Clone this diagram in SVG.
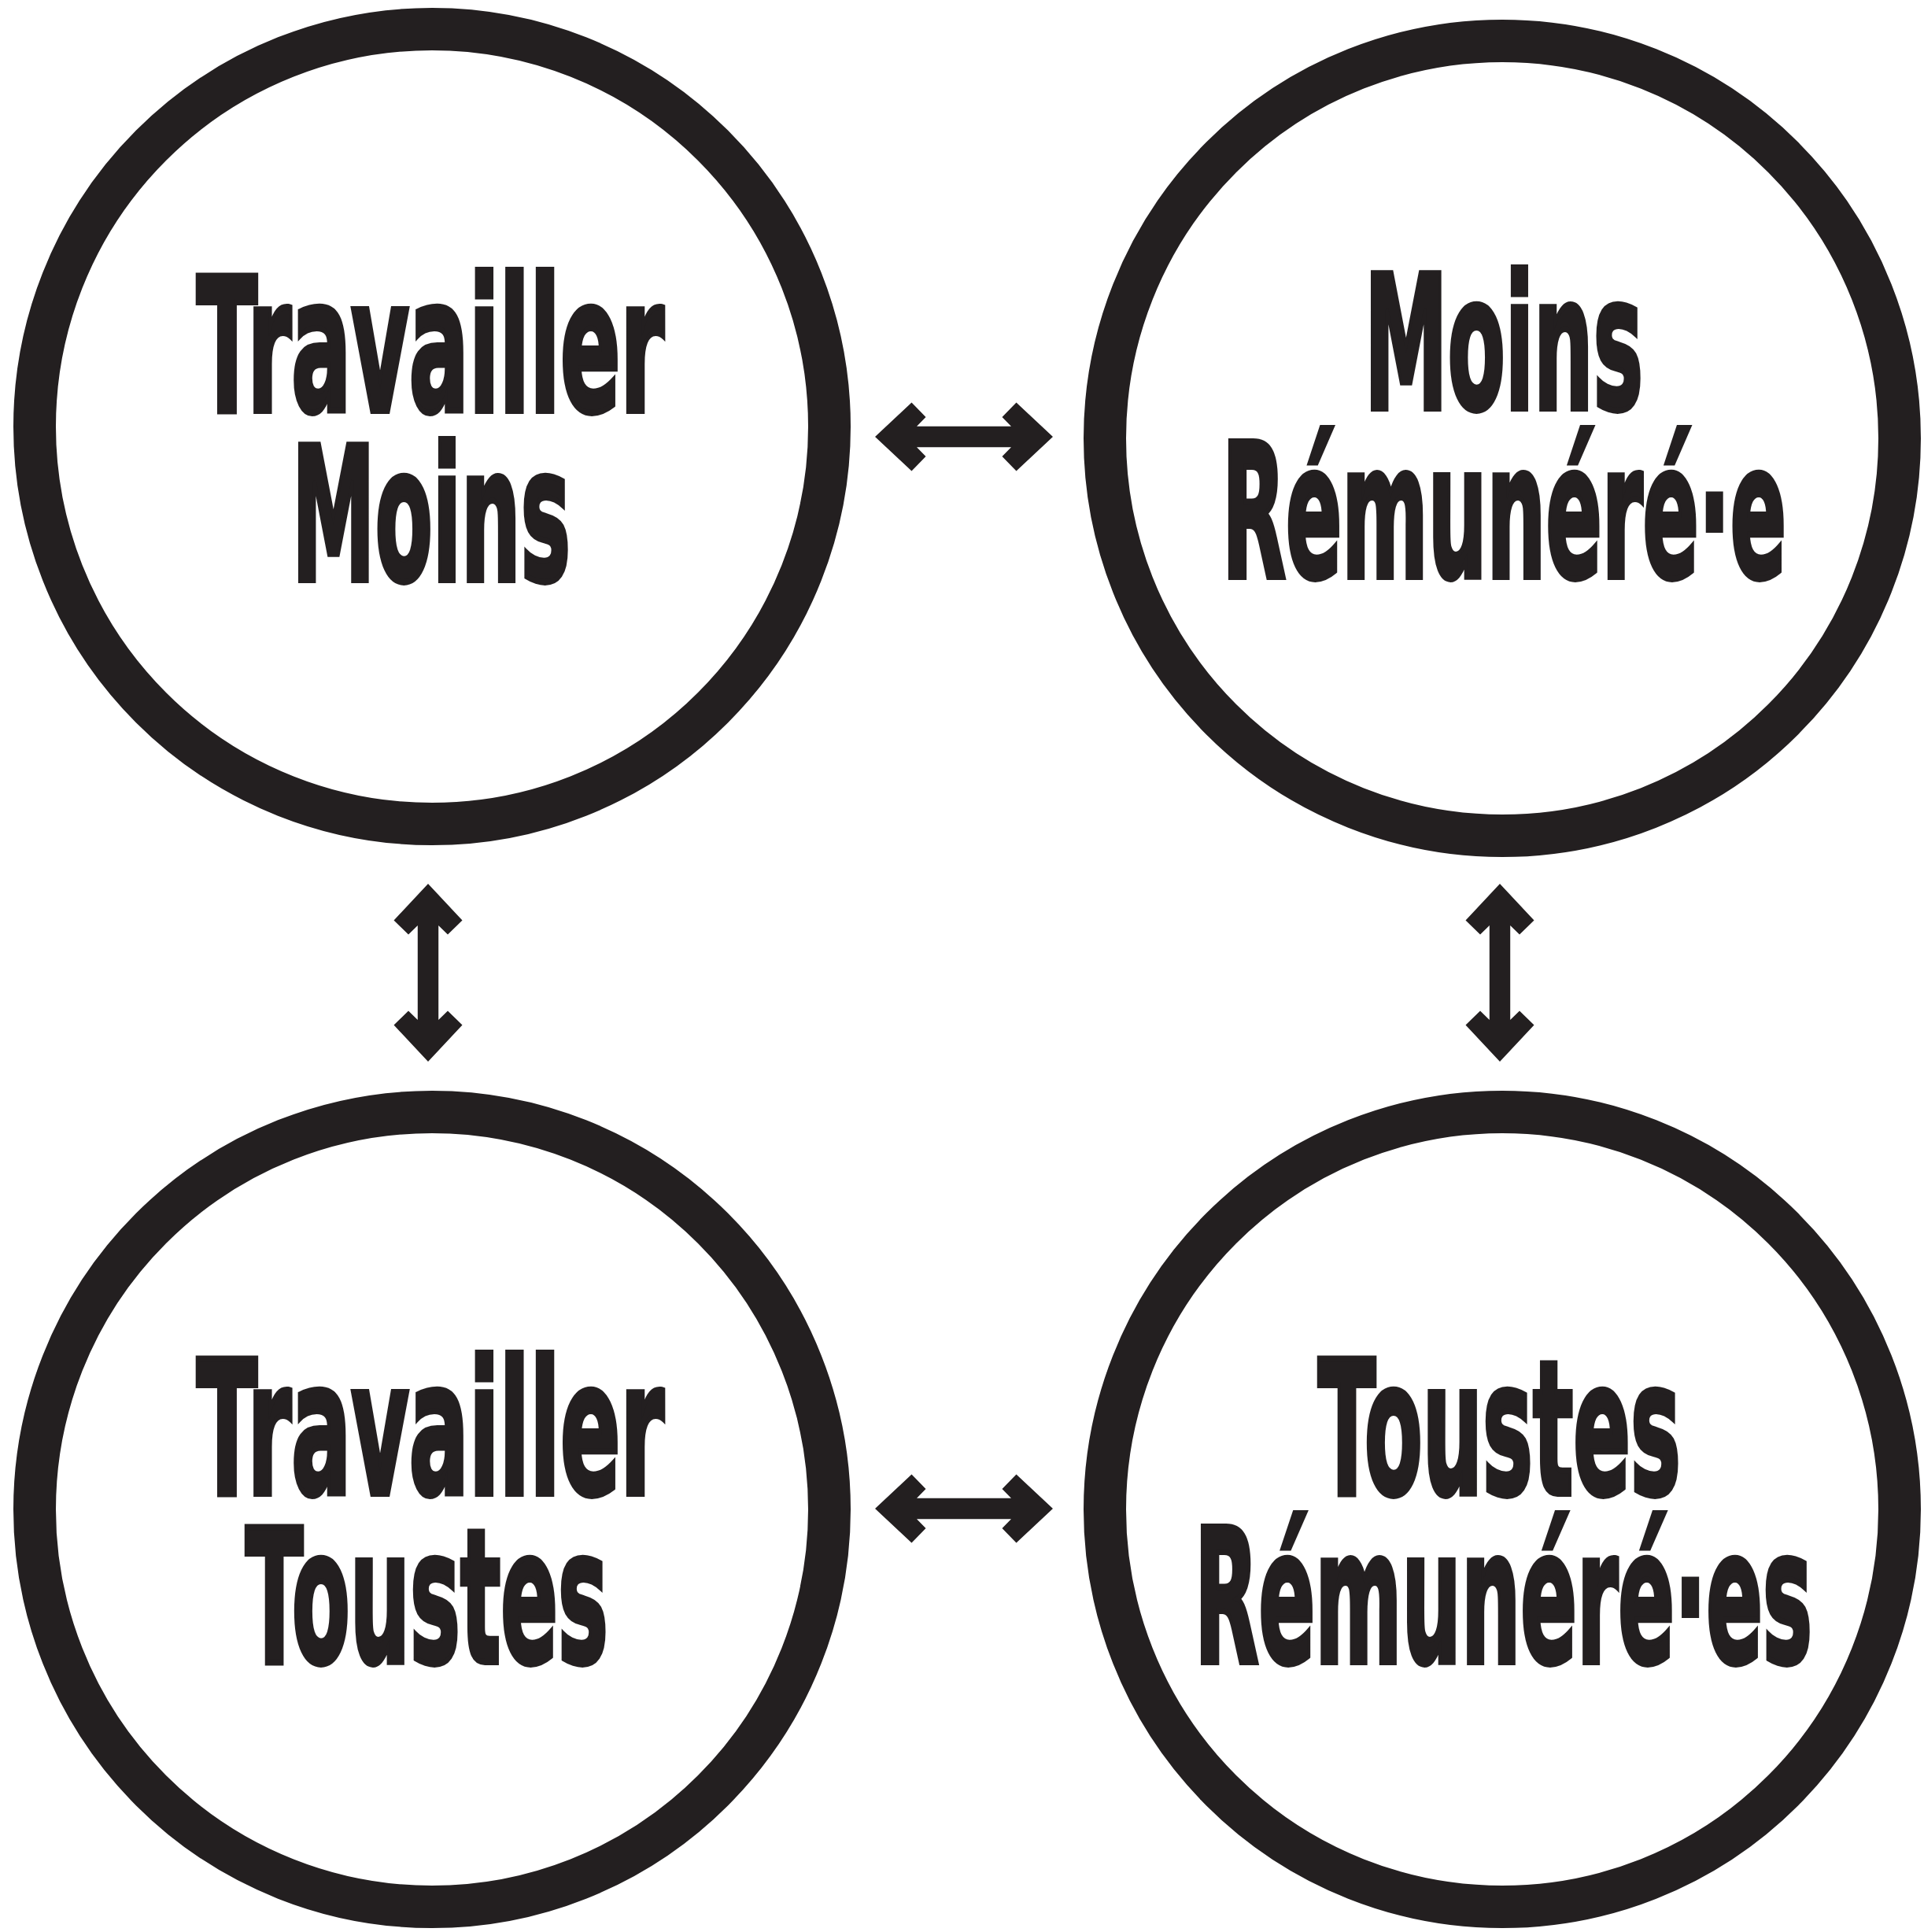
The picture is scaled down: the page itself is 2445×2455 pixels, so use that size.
<svg xmlns="http://www.w3.org/2000/svg" xmlns:xlink="http://www.w3.org/1999/xlink" width="2445" height="2455" viewBox="0 0 2445 2455">
<style>
.ring{fill:none;stroke:#231f20;stroke-width:54}
.lbl{font-family:"DejaVu Sans","Liberation Sans",sans-serif;font-weight:bold;font-size:100px;fill:#231f20;stroke:#231f20;stroke-width:6;stroke-linejoin:miter;vector-effect:non-scaling-stroke}
.arr{fill:#231f20}
</style>
<defs>
<path id="dbl" d="M-113,0 L-66.5,-43.5 L-48.5,-25 L-60,-13.2 L60,-13.2 L48.5,-25 L66.5,-43.5 L113,0 L66.5,43.5 L48.5,25 L60,13.2 L-60,13.2 L-48.5,25 L-66.5,43.5 Z"/>
</defs>
<rect width="2445" height="2455" fill="#ffffff"/>
<g id="connectors">
<use href="#dbl" xlink:href="#dbl" class="arr" transform="translate(1225,555)"/>
<use href="#dbl" xlink:href="#dbl" class="arr" transform="translate(1225,1917)"/>
<use href="#dbl" xlink:href="#dbl" class="arr" transform="translate(544,1236) rotate(90)"/>
<use href="#dbl" xlink:href="#dbl" class="arr" transform="translate(1906,1236) rotate(90)"/>
</g>
<g id="node-travailler-moins">
<circle class="ring" cx="549" cy="542" r="505"/>
<text class="lbl" transform="translate(250,522) scale(1,2.36)" textLength="594" lengthAdjust="spacingAndGlyphs">Travailler</text>
<text class="lbl" transform="translate(371,737) scale(1,2.36)" textLength="354" lengthAdjust="spacingAndGlyphs">Moins</text>
</g>
<g id="node-moins-remuneree">
<circle class="ring" cx="1909" cy="557" r="505"/>
<text class="lbl" transform="translate(1734,519) scale(1,2.36)" textLength="354" lengthAdjust="spacingAndGlyphs">Moins</text>
<text class="lbl" transform="translate(1553,733) scale(1,2.36)" textLength="717" lengthAdjust="spacingAndGlyphs">Rémunéré·e</text>
</g>
<g id="node-travailler-toustes">
<circle class="ring" cx="549" cy="1918" r="505"/>
<text class="lbl" transform="translate(250,1898) scale(1,2.36)" textLength="594" lengthAdjust="spacingAndGlyphs">Travailler</text>
<text class="lbl" transform="translate(312,2112) scale(1,2.36)" textLength="461" lengthAdjust="spacingAndGlyphs">Toustes</text>
</g>
<g id="node-toustes-remunerees">
<circle class="ring" cx="1909" cy="1918" r="505"/>
<text class="lbl" transform="translate(1675,1898) scale(1,2.36)" textLength="461" lengthAdjust="spacingAndGlyphs">Toustes</text>
<text class="lbl" transform="translate(1518,2112) scale(1,2.36)" textLength="785" lengthAdjust="spacingAndGlyphs">Rémunéré·es</text>
</g>
</svg>
